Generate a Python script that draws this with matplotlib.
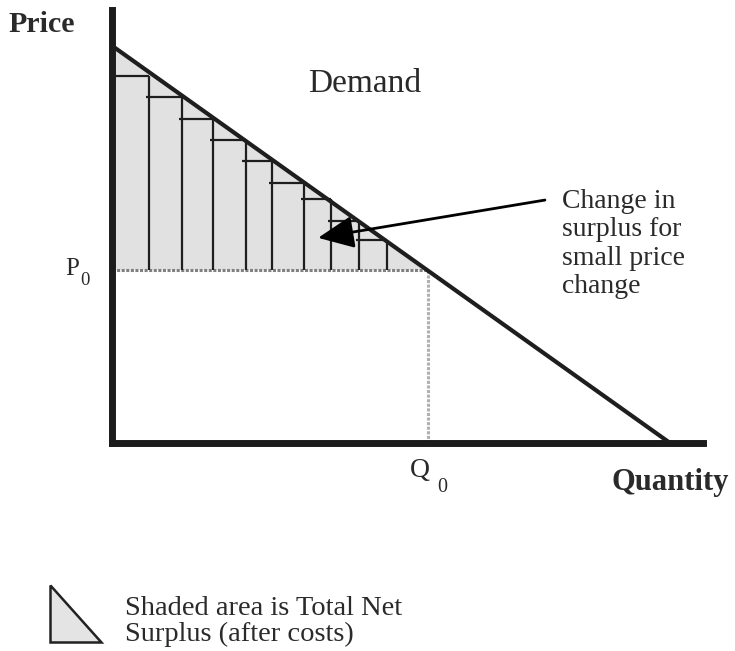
import matplotlib.pyplot as plt
from matplotlib.patches import Polygon

plt.rcParams['font.family'] = ['Liberation Serif', 'DejaVu Serif']

# demand line end points (quantity, price)
demand_q = [0, 100]
demand_p = [100, 0]

# market point
q0 = 56.6
p0 = 43.6

# right edges of the price-step bars and the height of each step
step_edges = [6.8, 12.6, 18.2, 24.0, 28.8, 34.5, 39.3, 44.4, 49.3]
step_tops = [92.3, 86.9, 81.4, 76.2, 70.8, 65.3, 61.3, 55.8, 51.1]

# arrow from the note into the last steps
arrow_tail = (77.6, 61.1)
arrow_tip = (37.0, 51.6)

change_note = ['Change in', 'surplus for', 'small price', 'change']
legend_note = ['Shaded area is Total Net', 'Surplus (after costs)']

W, H = 735, 651
fig = plt.figure(figsize=(W / 100, H / 100), dpi=100)
fig.patch.set_facecolor('white')

# plot area, origin at pixel (111.5, 443)
ax = fig.add_axes([111.5 / W, (H - 443) / H, (703 - 111.5) / W, (443 - 10) / H])
ax.set_xlim(0, 105.9)
ax.set_ylim(0, 108.9)
ax.set_xticks([])
ax.set_yticks([])
ax.set_facecolor('none')
for side in ['top', 'right']:
    ax.spines[side].set_visible(False)
for side in ['left', 'bottom']:
    ax.spines[side].set_linewidth(5)
    ax.spines[side].set_color('#1c1c1c')
    ax.spines[side].set_capstyle('projecting')

dark = '#1e1e1e'

# total net surplus (triangle above P0, under demand)
ax.fill([0, 0, q0], [p0, demand_p[0], p0], color='#e1e1e1', lw=0, zorder=1)

# step bars
for i, (right, top) in enumerate(zip(step_edges, step_tops)):
    left = 0 if i == 0 else step_edges[i - 1] - 0.6
    ax.plot([left, right], [top, top], color=dark, lw=1.6, zorder=3,
            solid_capstyle='butt')
    ax.plot([right, right], [p0, top], color=dark, lw=1.6, zorder=3,
            solid_capstyle='butt')

# P0 and Q0 guide lines
ax.plot([0, q0], [p0, p0], color='#808080', lw=2.2, zorder=2,
        ls=(0, (1, 0.5)))
ax.plot([q0, q0], [0, p0], color='#b0b0b0', lw=2.2, zorder=2,
        ls=(0, (1, 0.5)))

# demand
ax.plot(demand_q, demand_p, color=dark, lw=3, zorder=4, solid_capstyle='butt')

ax.annotate('', xy=arrow_tip, xytext=arrow_tail,
            arrowprops=dict(arrowstyle='-|>,head_length=1.1,head_width=0.5',
                            mutation_scale=20, lw=2, color='black',
                            shrinkA=0, shrinkB=0),
            zorder=5)

# overlay in pixel units for the labels and the key
ov = fig.add_axes([0, 0, 1, 1], zorder=10)
ov.set_xlim(0, W)
ov.set_ylim(H, 0)
ov.axis('off')
ov.patch.set_alpha(0)

txt = '#2a2a2a'
ov.text(8, 32, 'Price', fontsize=21.5, fontweight='bold', color=txt, va='baseline')
ov.text(612, 490, 'Quantity', fontsize=22, fontweight='bold', color=txt, va='baseline')
ov.text(308, 92, 'Demand', fontsize=24, color=txt, va='baseline')

ov.text(65, 275, 'P', fontsize=18, color=txt, va='baseline')
ov.text(80, 285, '0', fontsize=13.5, color=txt, va='baseline')
ov.text(410, 477, 'Q', fontsize=20, color=txt, va='baseline')
ov.text(437, 491.5, '0', fontsize=14.5, color=txt, va='baseline')

for k, line in enumerate(change_note):
    ov.text(562, 208 + 28.4 * k, line, fontsize=20, color=txt, va='baseline')

ov.add_patch(Polygon([(50, 585), (50, 641.5), (101.5, 641.5)], closed=True,
                     facecolor='#e4e4e4', edgecolor='#222222', lw=1.8,
                     joinstyle='miter'))
ov.text(125, 596, '\n'.join(legend_note), fontsize=20.5, color=txt,
        va='top', linespacing=1.05)

fig.savefig('out.png', dpi=100)
